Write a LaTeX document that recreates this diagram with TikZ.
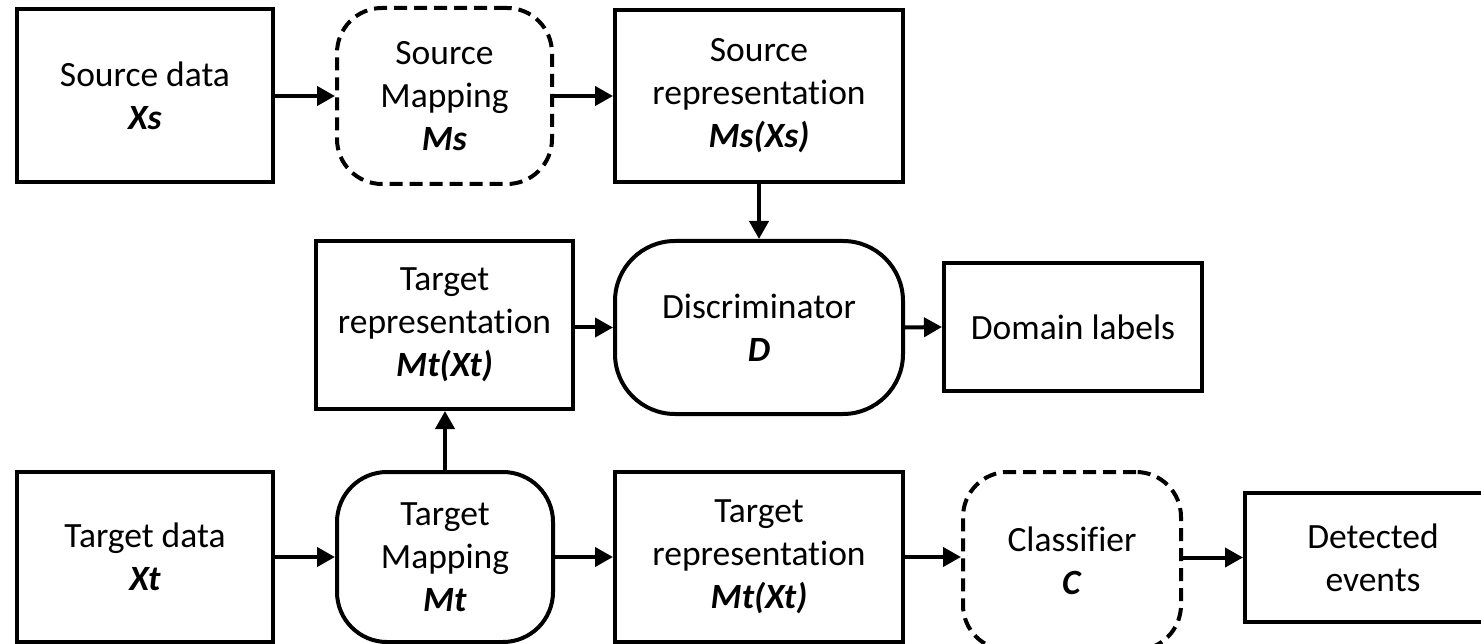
\documentclass[tikz,border=0pt]{standalone}
\usepackage{fontspec}
\setmainfont[Ligatures=NoCommon]{Carlito}
\usetikzlibrary{arrows.meta}
\newcommand\vn[1]{\textbf{\textit{#1}}}
\begin{document}
\begin{tikzpicture}[x=1pt,y=-1pt,
  box/.style={draw, line width=4pt, rectangle, align=center,
    font=\fontsize{35.5}{43}\selectfont, inner sep=0pt},
  rbox/.style={box, rounded corners=#1},
  dbox/.style={box, rounded corners=#1, dash pattern=on 13pt off 7pt},
  conn/.style={line width=4pt, -{Triangle[length=18pt,width=19pt]}}]
\useasboundingbox (0,0) rectangle (1481,644);
\clip (0,0) rectangle (1481,644);

% top row: source branch
\node[box, minimum width=256pt, minimum height=173pt] (sdata) at (145,96) {Source data\\\vn{Xs}};
\node[dbox=45pt, minimum width=215pt, minimum height=176pt] (smap) at (444.5,96) {Source\\Mapping\\\vn{Ms}};
\node[box, minimum width=288pt, minimum height=172pt] (srep) at (759,96) {Source\\representation\\\vn{Ms(Xs)}};

% middle row: adversarial part
\node[box, minimum width=257pt, minimum height=168pt] (trepm) at (444.5,325) {Target\\representation\\\vn{Mt(Xt)}};
\node[rbox=60pt, minimum width=288pt, minimum height=173pt] (disc) at (759,327.5) {Discriminator\\\vn{D}};
\node[box, minimum width=258pt, minimum height=127pt] (dom) at (1073,327) {Domain labels};

% bottom row: target branch
\node[box, minimum width=256pt, minimum height=170pt] (tdata) at (145,557) {Target data\\\vn{Xt}};
\node[rbox=50pt, minimum width=216pt, minimum height=170pt] (tmap) at (445,557) {Target\\Mapping\\\vn{Mt}};
\node[box, minimum width=288pt, minimum height=170pt] (trepb) at (759,557) {Target\\representation\\\vn{Mt(Xt)}};
\node[dbox=45pt, minimum width=218pt, minimum height=178pt] (clf) at (1072,561) {Classifier\\\vn{C}};
\node[box, minimum width=256pt, minimum height=129pt] (det) at (1373,557.5) {Detected\\events};

% connectors
\draw[conn] (sdata.east) -- (sdata.east -| smap.west);
\draw[conn] (smap.east |- sdata.east) -- (sdata.east -| srep.west);
\draw[conn] (srep.south -| disc.north) -- (disc.north);
\draw[conn] (trepm.east |- disc.west) -- (disc.west);
\draw[conn] (disc.east) -- (dom.west);
\draw[conn] (tmap.north) -- (tmap.north |- trepm.south);
\draw[conn] (tdata.east) -- (tdata.east -| tmap.west);
\draw[conn] (tmap.east |- tdata.east) -- (tdata.east -| trepb.west);
\draw[conn] (trepb.east) -- (trepb.east -| clf.west);
\draw[conn] (clf.east |- det.west) -- (det.west);
\end{tikzpicture}
\end{document}
